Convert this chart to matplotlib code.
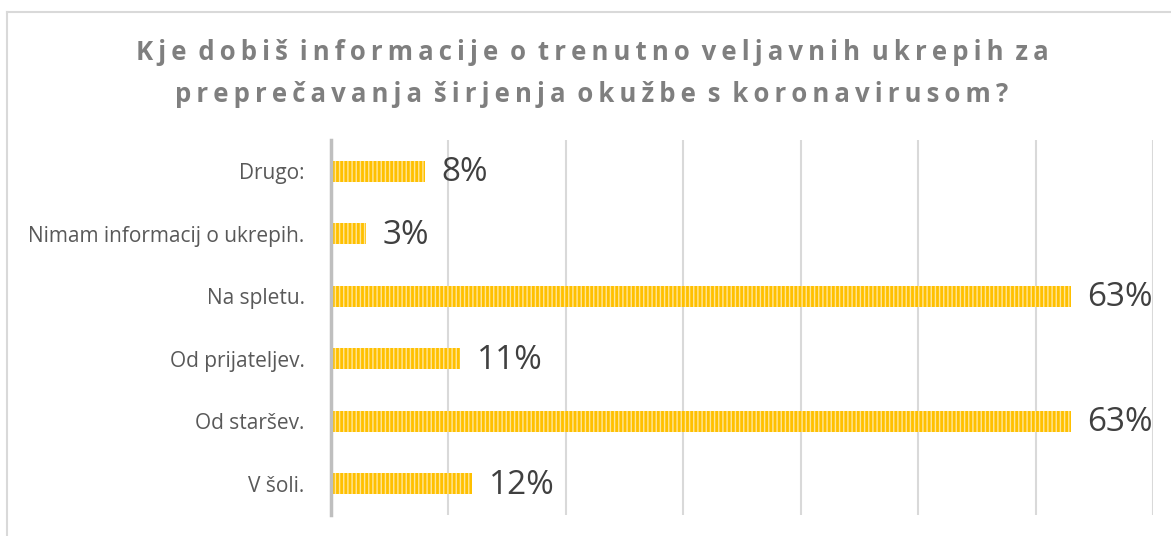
import matplotlib
matplotlib.use("Agg")
import matplotlib.pyplot as plt
from matplotlib.lines import Line2D

categories = ["V šoli.", "Od staršev.", "Od prijateljev.", "Na spletu.",
              "Nimam informacij o ukrepih.", "Drugo:"]
values = [12, 63, 11, 63, 3, 8]
value_labels = ["12%", "63%", "11%", "63%", "3%", "8%"]
title_lines = ["Kje dobiš informacije o trenutno veljavnih ukrepih za",
               "preprečavanja širjenja okužbe s koronavirusom?"]

plt.rcParams['font.family'] = ['Open Sans', 'DejaVu Sans']
plt.rcParams['hatch.linewidth'] = 1.0

W, H = 1171, 536
fig = plt.figure(figsize=(W / 100, H / 100), dpi=100)

# outer chart border
fig.add_artist(Line2D([6.5 / W, 6.5 / W], [0, 1 - 11.5 / H], transform=fig.transFigure,
                      color="#D9D9D9", lw=1.5))
fig.add_artist(Line2D([6.5 / W, 1], [1 - 11.5 / H, 1 - 11.5 / H], transform=fig.transFigure,
                      color="#D9D9D9", lw=1.5))

left, right, top, bottom = 331, 1153, 140, 515
ax = fig.add_axes([left / W, (H - bottom) / H, (right - left) / W, (bottom - top) / H])

y = list(range(len(categories)))
ax.barh(y, values, height=0.33, color="#FFC000", edgecolor="#FFE699",
        linewidth=0, hatch="||||", zorder=3)

for yi, v, lab in zip(y, values, value_labels):
    ax.annotate(lab, (v, yi), xytext=(12, -1), textcoords="offset points",
                va="center", ha="left", fontsize=24, color="#404040",
                family=['Open Sans', 'DejaVu Sans'])

ax.set_xlim(0, 70)
ax.set_ylim(-0.5, 5.5)
ax.set_xticks(range(0, 71, 10))
ax.set_xticklabels([])
ax.tick_params(axis="x", length=0)
ax.grid(axis="x", color="#D9D9D9", lw=1.5, zorder=0)
ax.set_yticks(y)
ax.set_yticklabels(categories, fontsize=15, color="#595959")
ax.tick_params(axis="y", length=0, pad=19)
for s in ["top", "right", "bottom"]:
    ax.spines[s].set_visible(False)
ax.spines["left"].set_color("#BFBFBF")
ax.spines["left"].set_linewidth(2.5)
ax.spines["left"].set_zorder(4)

sp = "\u2009"
def spaced(t):
    return sp.join(t).replace(sp + " " + sp, " " + sp)

fig.text(592 / W, 1 - 53 / H, spaced(title_lines[0]), ha="center", va="center",
         fontsize=18.5, fontweight="bold", color="#7F7F7F")
fig.text(592 / W, 1 - 95 / H, spaced(title_lines[1]), ha="center", va="center",
         fontsize=18.5, fontweight="bold", color="#7F7F7F")

fig.savefig("out.png", dpi=100)
